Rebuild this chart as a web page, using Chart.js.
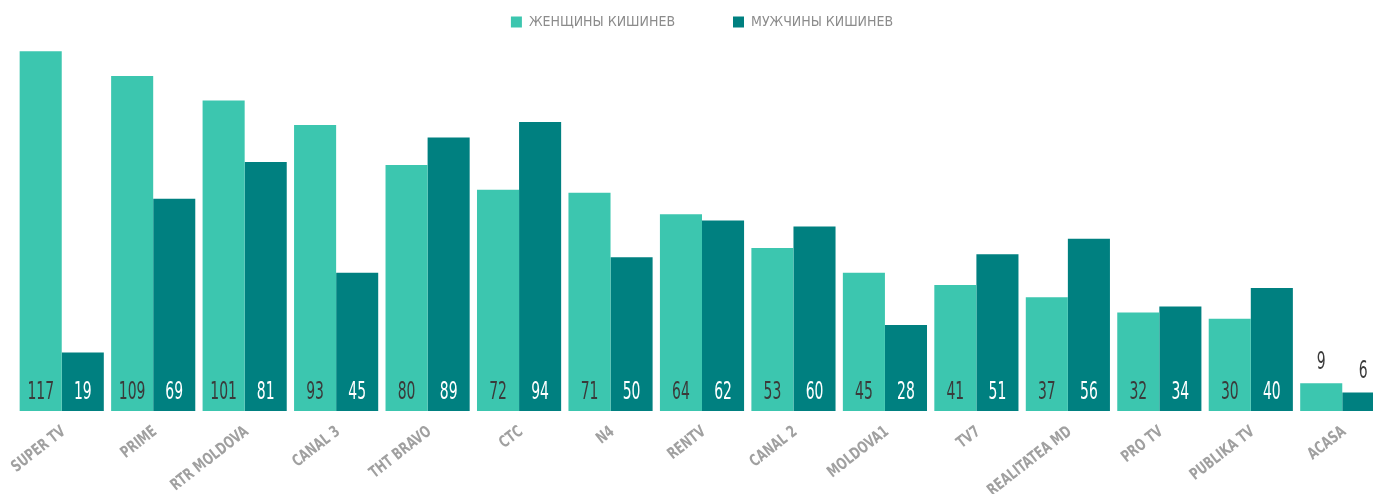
<!DOCTYPE html>
<html>
<head>
<meta charset="utf-8">
<script src="https://cdn.jsdelivr.net/npm/chart.js@4"></script>
<style>
  html, body { margin: 0; padding: 0; background: #fff; overflow: hidden; }
  #wrap { width: 1388px; height: 494px; }
</style>
</head>
<body>
<div id="wrap"><canvas id="tvChart"></canvas></div>
<script>
const channels = ['SUPER TV', 'PRIME', 'RTR MOLDOVA', 'CANAL 3', 'THT BRAVO', 'CTC', 'N4', 'RENTV',
    'CANAL 2', 'MOLDOVA1', 'TV7', 'REALITATEA MD', 'PRO TV', 'PUBLIKA TV', 'ACASA'];
const women = [117, 109, 101, 93, 80, 72, 71, 64, 53, 45, 41, 37, 32, 30, 9];
const men = [19, 69, 81, 45, 89, 94, 50, 62, 60, 28, 51, 56, 34, 40, 6];

const narrow = '"DejaVu Sans Condensed", "Liberation Sans Narrow", sans-serif';

// valeurs écrites dans les barres (ou au-dessus si la barre est trop basse)
const valueLabels = {
    id: 'valueLabels',
    afterDatasetsDraw(chart) {
        const ctx = chart.ctx;
        ctx.save();
        ctx.font = '25px ' + narrow;
        ctx.textAlign = 'center';
        ctx.textBaseline = 'middle';
        chart.data.datasets.forEach((ds, i) => {
            chart.getDatasetMeta(i).data.forEach((bar, j) => {
                const v = ds.data[j];
                let y = bar.base - 19;
                ctx.fillStyle = i === 0 ? '#3a3a3a' : '#ffffff';
                if (v < 15) {
                    y = bar.y - 21;
                    ctx.fillStyle = '#3a3a3a';
                }
                ctx.save();
                ctx.translate(bar.x, y);
                ctx.scale(0.62, 1);
                ctx.fillText(v, 0, 0);
                ctx.restore();
            });
        });
        ctx.restore();
    }
};

// étiquettes de l'axe x, inclinées et resserrées
const channelTicks = {
    id: 'channelTicks',
    afterDraw(chart) {
        const ctx = chart.ctx;
        const x = chart.scales.x;
        const top = chart.chartArea.bottom;
        ctx.save();
        ctx.font = 'bold 16px ' + narrow;
        ctx.fillStyle = '#a0a0a0';
        ctx.textAlign = 'right';
        ctx.textBaseline = 'middle';
        channels.forEach((name, i) => {
            ctx.save();
            ctx.translate(x.getPixelForTick(i) + 2, top + 19);
            ctx.rotate(-38 * Math.PI / 180);
            ctx.scale(0.8, 1);
            ctx.fillText(name, 0, 0);
            ctx.restore();
        });
        ctx.restore();
    }
};

new Chart(document.getElementById('tvChart'), {
    type: 'bar',
    data: {
        labels: channels,
        datasets: [{
            label: 'ЖЕНЩИНЫ КИШИНЕВ',
            data: women,
            backgroundColor: '#3cc6af'
        }, {
            label: 'МУЖЧИНЫ КИШИНЕВ',
            data: men,
            backgroundColor: '#008080'
        }]
    },
    options: {
        responsive: true,
        maintainAspectRatio: false,
        animation: false,
        layout: { padding: { left: 16, right: 0, top: 5, bottom: 75 } },
        datasets: {
            bar: { categoryPercentage: 0.92, barPercentage: 1 }
        },
        plugins: {
            legend: {
                labels: {
                    boxWidth: 11,
                    boxHeight: 11,
                    padding: 10,
                    color: '#8c8c8c',
                    font: { family: narrow, size: 14 },
                    generateLabels(chart) {
                        const items = Chart.defaults.plugins.legend.labels.generateLabels(chart);
                        items[0].text = items[0].text + '\u00a0'.repeat(12);
                        return items;
                    }
                }
            },
            tooltip: { enabled: false }
        },
        scales: {
            x: {
                grid: { display: false },
                border: { display: false },
                ticks: { display: false }
            },
            y: {
                display: false,
                min: 0,
                max: 121
            }
        }
    },
    plugins: [valueLabels, channelTicks]
});
</script>
</body>
</html>
